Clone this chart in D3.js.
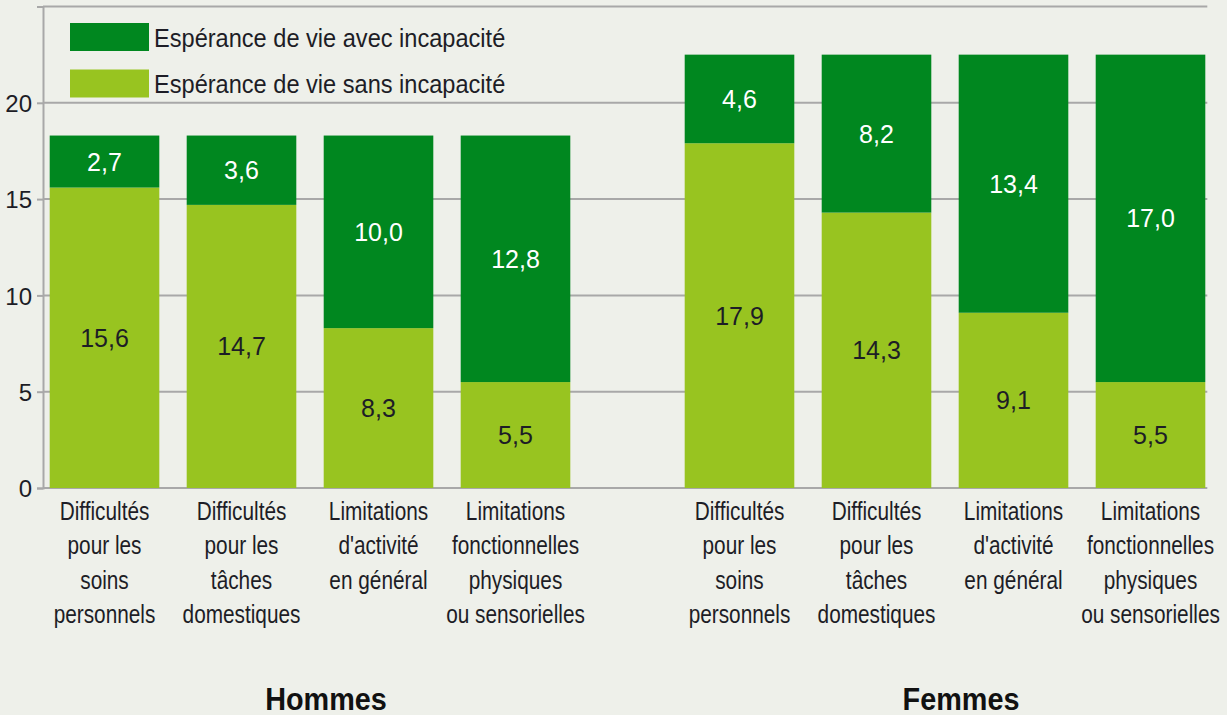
<!DOCTYPE html>
<html>
<head>
<meta charset="utf-8">
<script src="https://cdn.jsdelivr.net/npm/d3@7"></script>
<style>
  body { margin: 0; background: #eef0ea; }
  text { font-family: "Liberation Sans", Arial, sans-serif; }
</style>
</head>
<body>
<div id="paper"></div>
<script>

// data.

const groups = ["Hommes", "Femmes"]
const categories = ["soins", "taches", "activite", "fonctionnelles"]
const category_lines = [
    ["Difficultés", "pour les", "soins", "personnels"],
    ["Difficultés", "pour les", "tâches", "domestiques"],
    ["Limitations", "d'activité", "en général"],
    ["Limitations", "fonctionnelles", "physiques", "ou sensorielles"]
]
const sans_incapacite = { Hommes: [15.6, 14.7, 8.3, 5.5], Femmes: [17.9, 14.3, 9.1, 5.5] }
const avec_incapacite = { Hommes: [2.7, 3.6, 10.0, 12.8], Femmes: [4.6, 8.2, 13.4, 17.0] }
const y_ticks = [0, 5, 10, 15, 20]
const legend_labels = ["Espérance de vie avec incapacité", "Espérance de vie sans incapacité"]

const dark_green = "#00871f"
const light_green = "#98c420"
const grid_grey = "#a8a8a8"
const ink = "#1d1d26"

const fmt = v => d3.format(".1f")(v).replace(".", ",")

// the original uses a condensed face: squeeze text horizontally around its anchor.

function place(sel, fx, fy, sx) {
    sel.attr("transform", (d, i) => `translate(${fx(d, i)}, ${fy(d, i)}) scale(${sx}, 1)`)
}

// canvas.

const svg = d3.select("#paper")
    .append("svg")
    .attr("id", "canvas")
    .attr("width", 1227)
    .attr("height", 715)
    .style("background-color", "#eef0ea")

// scales.

let y = d3.scaleLinear().domain([0, 25]).range([488, 6.5])
let outer = d3.scaleBand().domain(groups).range([36, 1219]).paddingInner(0.137)
let inner = d3.scaleBand().domain(categories).range([0, outer.bandwidth()]).paddingInner(0.2).paddingOuter(0.1)

const plot_left = 43
const plot_right = outer("Femmes") + inner(categories[categories.length - 1]) + inner.bandwidth() + 2

// gridlines (including the top frame line).

svg.selectAll(".grid")
    .data(y_ticks.concat([25]))
    .join("line")
    .attr("class", "grid")
    .attr("x1", plot_left)
    .attr("x2", plot_right)
    .attr("y1", d => y(d))
    .attr("y2", d => y(d))
    .style("stroke", grid_grey)
    .style("stroke-width", 2)

// y axis.

let axis = d3.axisLeft(y).tickValues(y_ticks).tickSize(6).tickPadding(5).tickFormat(d3.format("d"))
let ax = svg.append("g").attr("transform", `translate(${plot_left}, 0)`).call(axis)
ax.select(".domain").style("stroke", grid_grey).style("stroke-width", 2)
ax.selectAll(".tick line").style("stroke", grid_grey).style("stroke-width", 2)
ax.selectAll(".tick text")
    .style("font-family", '"Liberation Sans", Arial, sans-serif')
    .style("font-size", "24px")
    .style("fill", ink)
    .attr("dy", "0.36em")

// stacked bars.

const rows = []
groups.forEach(g => {
    categories.forEach((c, i) => {
        rows.push({ group: g, cat: c, idx: i, sans: sans_incapacite[g][i], avec: avec_incapacite[g][i] })
    })
})

const bar_x = d => outer(d.group) + inner(d.cat)
const bar_cx = d => bar_x(d) + inner.bandwidth() / 2

svg.selectAll(".bar_sans")
    .data(rows)
    .join("rect")
    .attr("class", "bar_sans")
    .attr("x", bar_x)
    .attr("width", inner.bandwidth())
    .attr("y", d => y(d.sans))
    .attr("height", d => y(0) - y(d.sans))
    .style("fill", light_green)

svg.selectAll(".bar_avec")
    .data(rows)
    .join("rect")
    .attr("class", "bar_avec")
    .attr("x", bar_x)
    .attr("width", inner.bandwidth())
    .attr("y", d => y(d.sans + d.avec))
    .attr("height", d => y(d.sans) - y(d.sans + d.avec))
    .style("fill", dark_green)

// value labels, centred in each segment.

svg.selectAll(".label_sans")
    .data(rows)
    .join("text")
    .attr("class", "label_sans")
    .attr("x", bar_cx)
    .attr("y", d => y(d.sans / 2))
    .attr("dy", "0.36em")
    .attr("text-anchor", "middle")
    .style("font-size", "25px")
    .style("fill", ink)
    .text(d => fmt(d.sans))

svg.selectAll(".label_avec")
    .data(rows)
    .join("text")
    .attr("class", "label_avec")
    .attr("x", bar_cx)
    .attr("y", d => y(d.sans + d.avec / 2))
    .attr("dy", "0.36em")
    .attr("text-anchor", "middle")
    .style("font-size", "25px")
    .style("fill", "white")
    .text(d => fmt(d.avec))

// category labels under the bars.

const cat_labels = svg.selectAll(".cat_label")
    .data(rows)
    .join("text")
    .attr("class", "cat_label")
    .attr("text-anchor", "middle")
    .style("font-size", "26px")
    .style("fill", ink)
    .call(place, bar_cx, () => 520, 0.8)

cat_labels.selectAll("tspan")
    .data(d => category_lines[d.idx])
    .join("tspan")
    .attr("x", 0)
    .attr("y", (d, i) => i * 34.5)
    .text(d => d)

// group titles.

svg.selectAll(".group_label")
    .data(groups)
    .join("text")
    .attr("class", "group_label")
    .attr("text-anchor", "middle")
    .style("font-size", "31px")
    .style("font-weight", "bold")
    .style("fill", "#111")
    .text(d => d)
    .call(place, d => outer(d) + outer.bandwidth() / 2 + 16, () => 710, 0.93)

// legend.

const legend = svg.selectAll(".legend")
    .data(legend_labels)
    .join("g")
    .attr("class", "legend")
    .attr("transform", (d, i) => `translate(70, ${23 + i * 46.5})`)

legend.append("rect")
    .attr("width", 79)
    .attr("height", 28)
    .style("fill", (d, i) => i === 0 ? dark_green : light_green)

legend.append("text")
    .attr("dy", "0.36em")
    .style("font-size", "26.5px")
    .style("fill", ink)
    .text(d => d)
    .call(place, () => 84, () => 14, 0.89)

</script>
</body>
</html>
